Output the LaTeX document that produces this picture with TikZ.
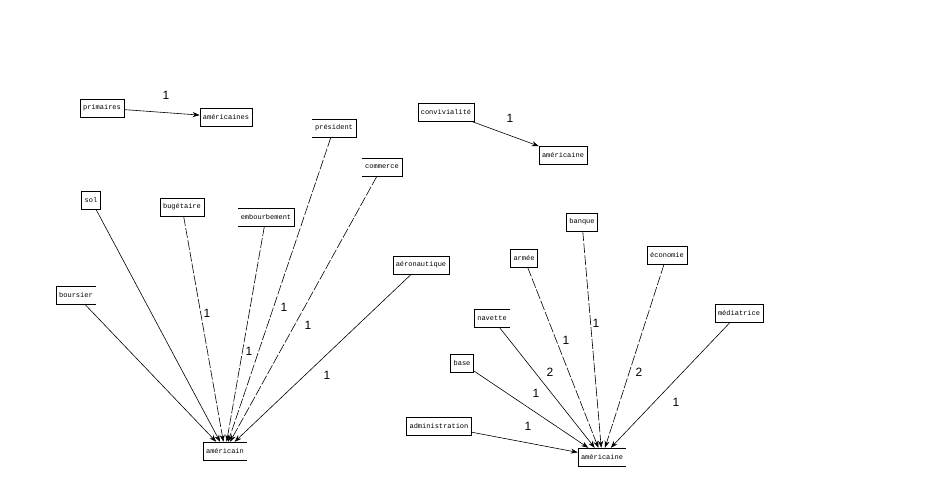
\documentclass[tikz,border=0pt]{standalone}
\usepackage{fontspec}
\setmonofont{Liberation Mono}
\setsansfont{Liberation Sans}
\usetikzlibrary{arrows.meta}
\tikzset{
  word/.style={font=\ttfamily\fontsize{7}{8}\selectfont, inner xsep=3pt, inner ysep=0pt, minimum height=18pt},
  box/.style={word, draw},
  num/.style={font=\sffamily\fontsize{12}{13}\selectfont, inner sep=0pt},
  link/.style={-{Stealth[length=7pt,width=5pt]}, line width=0.6pt},
  dlink/.style={link, dash pattern=on 10pt off 2pt}
}
\begin{document}
\begin{tikzpicture}[x=1pt, y=-1pt]
\useasboundingbox (0,0) rectangle (940,503);
% top pairs
\node[box] (prim) at (102,108) {primaires};
\node[box] (amers) at (226,117) {américaines};
\node[box] (conv) at (446,112) {convivialité};
\node[box] (amea) at (563,155) {américaine};
\draw[link] (prim) -- (amers);
\draw[link] (conv) -- (amea);
\node[num] (n1) at (166,95) {1};
\node[num] (n2) at (510,118) {1};
% left star
\node[box] (sol) at (91,200) {sol};
\node[box] (bug) at (182,207) {bugétaire};
\node[word] (embo) at (266,217) {embourbement};
\node[word] (pres) at (334,128) {président};
\node[word] (comm) at (382,167) {commerce};
\node[box] (aero) at (421,265) {aéronautique};
\node[word] (bour) at (76,295) {boursier};
\node[word] (amer) at (225,451) {américain};
\draw[link] (bour) -- (amer);
\draw[link] (sol) -- (amer);
\draw[dlink] (bug) -- (amer);
\draw[dlink] (embo) -- (amer);
\draw[dlink] (pres) -- (amer);
\draw[dlink] (comm) -- (amer);
\draw[link] (aero) -- (amer);
\node[num] (n3) at (207,313) {1};
\node[num] (n4) at (284,307) {1};
\node[num] (n5) at (308,325) {1};
\node[num] (n6) at (249,351) {1};
\node[num] (n7) at (327,375) {1};
% right star
\node[box] (banq) at (582,222) {banque};
\node[box] (arme) at (524,258) {armée};
\node[box] (econ) at (667,255) {économie};
\node[word] (nav) at (492,318) {navette};
\node[box] (medi) at (739,313) {médiatrice};
\node[box] (base) at (462,363) {base};
\node[box] (admi) at (439,426) {administration};
\node[word] (ameb) at (602,457) {américaine};
\draw[link] (admi) -- (ameb);
\draw[link] (base) -- (ameb);
\draw[link] (nav) -- (ameb);
\draw[dlink] (arme) -- (ameb);
\draw[dlink] (banq) -- (ameb);
\draw[dlink] (econ) -- (ameb);
\draw[link] (medi) -- (ameb);
\node[num] (n8) at (596,323) {1};
\node[num] (n9) at (566,340) {1};
\node[num] (n10) at (550,372) {2};
\node[num] (n11) at (639,372) {2};
\node[num] (n12) at (536,393) {1};
\node[num] (n13) at (528,426) {1};
\node[num] (n14) at (676,402) {1};
% boxes with one side missing
\foreach \n in {bour,nav,amer,ameb}
  \draw (\n.north east) -- (\n.north west) -- (\n.south west) -- (\n.south east);
\foreach \n in {embo,pres,comm}
  \draw (\n.north west) -- (\n.north east) -- (\n.south east) -- (\n.south west);
\end{tikzpicture}
\end{document}
